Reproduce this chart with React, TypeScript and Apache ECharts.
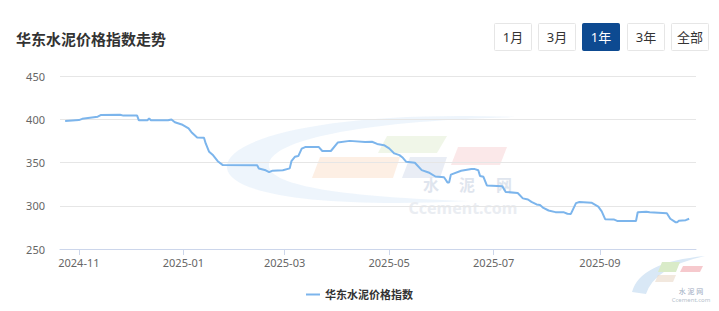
import React, { useEffect, useRef } from "react";
import * as echarts from "echarts";

const seriesName = "华东水泥价格指数";
const titleText = "华东水泥价格指数走势";
const rangeButtons = ["1月", "3月", "1年", "3年", "全部"];
const activeButton = "1年";

const dates = [
  "2024-10-24", "2024-11-01", "2024-11-03", "2024-11-12", "2024-11-14", "2024-11-25", "2024-11-27",
  "2024-12-05", "2024-12-06", "2024-12-11", "2024-12-12", "2024-12-13", "2024-12-23", "2024-12-25",
  "2024-12-27", "2024-12-31", "2025-01-04", "2025-01-06", "2025-01-09", "2025-01-13", "2025-01-14",
  "2025-01-16", "2025-01-18", "2025-01-21", "2025-01-24", "2025-02-13", "2025-02-14", "2025-02-18",
  "2025-02-20", "2025-02-22", "2025-02-28", "2025-03-04", "2025-03-05", "2025-03-07", "2025-03-09",
  "2025-03-11", "2025-03-13", "2025-03-21", "2025-03-23", "2025-03-28", "2025-04-01", "2025-04-08",
  "2025-04-17", "2025-04-21", "2025-04-24", "2025-04-28", "2025-05-01", "2025-05-04", "2025-05-07",
  "2025-05-09", "2025-05-11", "2025-05-16", "2025-05-20", "2025-05-24", "2025-05-28", "2025-06-02",
  "2025-06-03", "2025-06-04", "2025-06-05", "2025-06-06", "2025-06-12", "2025-06-18", "2025-06-20",
  "2025-06-22", "2025-06-23", "2025-06-25", "2025-06-27", "2025-07-06", "2025-07-08", "2025-07-15",
  "2025-07-18", "2025-07-21", "2025-07-23", "2025-07-26", "2025-07-28", "2025-07-30", "2025-08-02",
  "2025-08-06", "2025-08-11", "2025-08-13", "2025-08-15", "2025-08-18", "2025-08-20", "2025-08-27",
  "2025-08-31", "2025-09-02", "2025-09-04", "2025-09-09", "2025-09-11", "2025-09-22", "2025-09-23",
  "2025-09-28", "2025-09-30", "2025-10-10", "2025-10-12", "2025-10-15", "2025-10-16", "2025-10-17",
  "2025-10-21", "2025-10-23",
];

const values = [
  398, 399, 400.5, 403, 405, 405.3, 404.2,
  404.2, 398.8, 398.8, 401, 398.8, 398.8, 399.8,
  396.6, 394, 389.4, 384.3, 379, 378.6, 372,
  362.4, 359, 351.5, 347, 346.8, 343, 341,
  338.8, 340.6, 341, 343.2, 351.5, 356.6, 357.4,
  366, 367.8, 367.8, 363.3, 363.3, 373, 375,
  373.8, 374, 371.5, 370, 366.3, 360.5, 358.5,
  355.4, 350.8, 349.7, 341.2, 338.5, 333.8, 333,
  330, 327, 327, 336, 340.4, 342.4, 342.4,
  341, 334.5, 333.5, 323.5, 322.5, 316, 314.7,
  308.5, 307.2, 304.5, 301.5, 301, 297.5, 294.5,
  292.6, 292.4, 290.8, 290.6, 303, 304.4, 303.5,
  299, 293.5, 284.5, 284.2, 282.5, 282.3, 292.5,
  293, 292.4, 291.4, 285, 281, 280.8, 282.7,
  283.3, 285,
];

const xTickDates = ["2024-11-01", "2025-01-01", "2025-03-01", "2025-05-01", "2025-07-01", "2025-09-01"];
const xMinDate = "2024-10-21";
const xMaxDate = "2025-10-27";
const yMin = 250;
const yMax = 450;
const yStep = 50;

const ts = (s: string) => {
  const [y, m, d] = s.split("-").map(Number);
  return new Date(y, m - 1, d).getTime();
};

const FONT = "'Noto Sans', 'Noto Sans CJK SC', sans-serif";

export default function App() {
  const ref = useRef<HTMLDivElement>(null);

  useEffect(() => {
    if (!ref.current) return;
    echarts.graphic.registerShape(
      "swoosh",
      echarts.graphic.extendPath(
        "M 515 117 C 330 110 224 138 227 168 C 230 196 330 208 470 201 C 345 197 266 186 269 164 C 272 140 360 121 515 117 Z",
        {}
      )
    );
    echarts.graphic.registerShape(
      "swooshSmall",
      echarts.graphic.extendPath("M 632 292 Q 640 262 705 256 Q 655 267 646 294 Z", {})
    );
    const chart = echarts.init(ref.current, undefined, { renderer: "svg" });

    const btnX = [494, 538, 582, 627, 671];
    const buttons: any[] = rangeButtons.map((label, i) => {
      const active = label === activeButton;
      return {
        type: "group",
        x: btnX[i],
        y: 23,
        children: [
          {
            type: "rect",
            shape: { x: 0.5, y: 0.5, width: 37, height: 27, r: 1 },
            style: { fill: active ? "#0d4a91" : "#fff", stroke: active ? "#0d4a91" : "#e6e6e6", lineWidth: 1 },
          },
          {
            type: "text",
            x: 19,
            y: 14,
            style: {
              text: label,
              fill: active ? "#fff" : "#333",
              font: `13px ${FONT}`,
              align: "center",
              verticalAlign: "middle",
            },
          },
        ],
      };
    });

    const wmChars = ["水", "泥", "网"];
    const wmCharX = [431, 467, 504];

    const watermark: any[] = [
      { type: "swoosh", z: -10, style: { fill: "#eaf2fb", opacity: 0.8 } },
      { type: "polygon", z: -10, shape: { points: [[320, 157], [400, 157], [393, 178], [312, 178]] }, style: { fill: "#fcebdd", opacity: 0.8 } },
      { type: "polygon", z: -10, shape: { points: [[387, 136], [447, 136], [437, 153], [378, 153]] }, style: { fill: "#eef5e5", opacity: 0.9 } },
      { type: "polygon", z: -10, shape: { points: [[410, 157], [447, 157], [440, 178], [402, 178]] }, style: { fill: "#e7ebf4", opacity: 0.9 } },
      { type: "polygon", z: -10, shape: { points: [[458, 147], [507, 147], [500, 165], [451, 165]] }, style: { fill: "#fbe5e7", opacity: 0.9 } },
      ...wmChars.map((c, i) => ({
        type: "text", z: -10, x: wmCharX[i], y: 185,
        style: { text: c, fill: "#dfe5ee", font: `bold 16px ${FONT}`, align: "center", verticalAlign: "middle" },
      })),
      { type: "text", z: -10, x: 463, y: 208, style: { text: "Ccement.com", fill: "#eaedf2", font: `bold 16px ${FONT}`, align: "center", verticalAlign: "middle" } },
      { type: "swooshSmall", z: -10, style: { fill: "#d9e8f6" } },
      { type: "polygon", z: -10, shape: { points: [[662, 262], [680, 262], [676, 272], [658, 272]] }, style: { fill: "#d9ebc8" } },
      { type: "polygon", z: -10, shape: { points: [[683, 266], [703, 266], [700, 272], [680, 272]] }, style: { fill: "#f6c9cd" } },
      { type: "polygon", z: -10, shape: { points: [[658, 275], [676, 275], [673, 282], [655, 282]] }, style: { fill: "#e9d8c8", opacity: 0.6 } },
      { type: "text", z: -10, x: 691, y: 291, style: { text: "水 泥 网", fill: "#9aa9bd", font: `7px ${FONT}`, align: "center", verticalAlign: "middle" } },
      { type: "text", z: -10, x: 691, y: 300, style: { text: "Ccement.com", fill: "#b5bfcc", font: `6px ${FONT}`, align: "center", verticalAlign: "middle" } },
    ];

    const tickValues = xTickDates.map(ts);

    chart.setOption({
      animation: false,
      backgroundColor: "#fff",
      textStyle: { fontFamily: FONT },
      title: {
        text: titleText,
        left: 16,
        top: 31,
        padding: 0,
        textStyle: { fontSize: 15, fontWeight: "bold", color: "#333", fontFamily: FONT },
      },
      legend: {
        data: [seriesName],
        left: "center",
        top: 284,
        icon: "rect",
        itemWidth: 14,
        itemHeight: 2,
        itemGap: 10,
        textStyle: { fontSize: 11, fontWeight: "bold", color: "#333", fontFamily: FONT },
      },
      grid: { left: 60, right: 23, top: 76, bottom: 62, containLabel: false },
      xAxis: {
        type: "value",
        min: ts(xMinDate),
        max: ts(xMaxDate),
        axisLine: { show: true, lineStyle: { color: "#ccd6eb", width: 1 } },
        axisTick: { show: true, length: 6, customValues: tickValues, lineStyle: { color: "#ccd6eb" } },
        axisLabel: {
          customValues: tickValues,
          color: "#666",
          fontSize: 11,
          margin: 8,
          fontFamily: FONT,
          formatter: (v: number) => {
            const d = new Date(v);
            const m = d.getMonth() + 1;
            return `${d.getFullYear()}-${m < 10 ? "0" + m : m}`;
          },
        },
        splitLine: { show: false },
      },
      yAxis: {
        type: "value",
        min: yMin,
        max: yMax,
        interval: yStep,
        axisLine: { show: false },
        axisTick: { show: false },
        axisLabel: { color: "#666", fontSize: 11, margin: 15, fontFamily: FONT },
        splitLine: { lineStyle: { color: "#e6e6e6", width: 1 } },
      },
      graphic: [...watermark, ...buttons],
      series: [
        {
          name: seriesName,
          type: "line",
          data: dates.map((d, i) => [ts(d), values[i]]),
          showSymbol: false,
          symbol: "none",
          smooth: false,
          lineStyle: { color: "#7cb5ec", width: 2 },
          itemStyle: { color: "#7cb5ec" },
          z: 5,
        },
      ],
    });

    return () => chart.dispose();
  }, []);

  return (
    <div
      ref={ref}
      style={{ position: "fixed", left: 0, top: 0, width: 719, height: 311, background: "#fff" }}
    />
  );
}
